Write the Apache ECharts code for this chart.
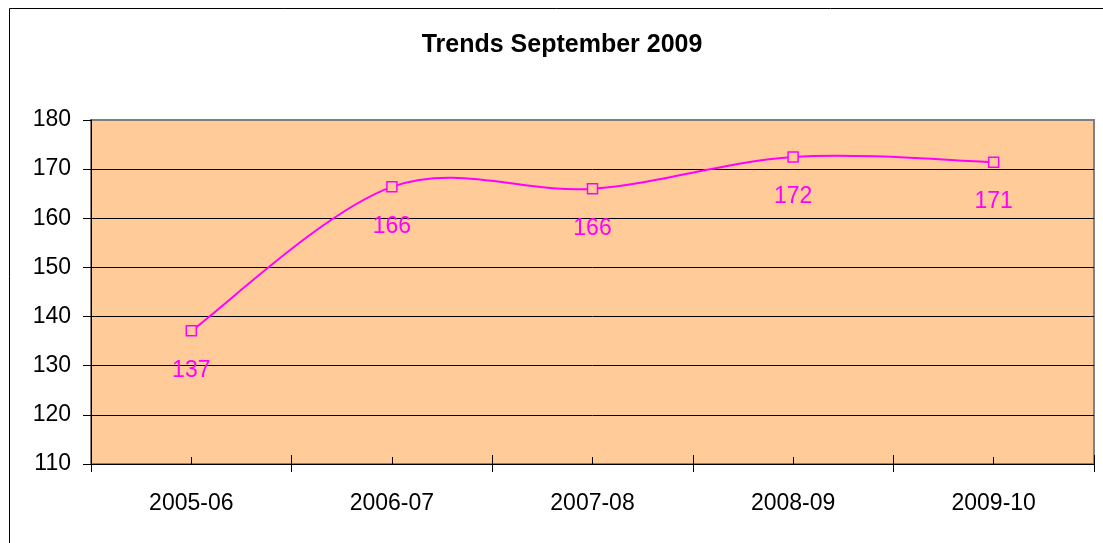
<!DOCTYPE html>
<html>
<head>
<meta charset="utf-8">
<script src="https://cdn.jsdelivr.net/npm/echarts@6/dist/echarts.min.js"></script>
<style>
html,body{margin:0;padding:0;background:#fff;}
#chart{width:1103px;height:543px;}
</style>
</head>
<body>
<div id="chart"></div>
<script>
// Data
const titleText = 'Trends September 2009';
const categories = ['2005-06', '2006-07', '2007-08', '2008-09', '2009-10'];
const values = [137.1, 166.4, 166.0, 172.49, 171.4];
const yTicks = { min: 110, max: 180, interval: 10 };

const FONT = '"Liberation Sans", Arial, sans-serif';
const chart = echarts.init(document.getElementById('chart'), null, { renderer: 'canvas' });

const baseX = {
  type: 'category',
  data: categories,
  position: 'bottom',
  boundaryGap: true,
  offset: 0
};

// Excel-style smoothed line (Catmull-Rom through the data points, positioned by the axes)
function renderSmooth(params, api) {
  if (params.dataIndex !== 0) return null;
  const pts = values.map((v, i) => api.coord([i, v]));
  const n = pts.length;
  let d = 'M' + pts[0][0] + ' ' + pts[0][1];
  for (let i = 0; i < n - 1; i++) {
    const p0 = pts[Math.max(0, i - 1)];
    const p1 = pts[i];
    const p2 = pts[i + 1];
    const p3 = pts[Math.min(n - 1, i + 2)];
    const c1 = [p1[0] + (p2[0] - p0[0]) / 6, p1[1] + (p2[1] - p0[1]) / 6];
    const c2 = [p2[0] - (p3[0] - p1[0]) / 6, p2[1] - (p3[1] - p1[1]) / 6];
    d += ' C' + c1[0] + ' ' + c1[1] + ' ' + c2[0] + ' ' + c2[1] + ' ' + p2[0] + ' ' + p2[1];
  }
  return {
    type: 'path',
    shape: { pathData: d },
    style: { fill: 'none', stroke: '#FF00FF', lineWidth: 2 },
    silent: true
  };
}

chart.setOption({
  animation: false,
  backgroundColor: '#ffffff',
  title: {
    text: titleText,
    left: 557,
    top: 28,
    textAlign: 'center',
    textStyle: { fontFamily: FONT, fontWeight: 'bold', fontSize: 25, color: '#000' }
  },
  graphic: [{
    type: 'rect',
    shape: { x: 9.5, y: 8.5, width: 1200, height: 600 },
    style: { fill: 'none', stroke: '#000', lineWidth: 1 },
    silent: true,
    z: 100
  }],
  grid: {
    left: 91, right: 9, top: 120, bottom: 79,
    show: true,
    backgroundColor: '#FFCC99',
    borderColor: '#808080',
    borderWidth: 2
  },
  xAxis: [
    Object.assign({}, baseX, {
      axisLine: { show: true, lineStyle: { color: '#000', width: 1 } },
      axisTick: { show: true, inside: false, length: 8, alignWithLabel: false, interval: 0, lineStyle: { color: '#000' } },
      axisLabel: { show: true, margin: 28, fontFamily: FONT, fontSize: 23, color: '#000', interval: 0 },
      splitLine: { show: false }
    }),
    Object.assign({}, baseX, {
      axisLine: { show: false },
      axisTick: { show: true, inside: true, length: 9, alignWithLabel: false, interval: 0, lineStyle: { color: '#000' } },
      axisLabel: { show: false },
      splitLine: { show: false }
    }),
    Object.assign({}, baseX, {
      axisLine: { show: false },
      axisTick: { show: true, inside: true, length: 7, alignWithLabel: true, interval: 0, lineStyle: { color: '#000' } },
      axisLabel: { show: false },
      splitLine: { show: false }
    })
  ],
  yAxis: {
    type: 'value',
    min: yTicks.min,
    max: yTicks.max,
    interval: yTicks.interval,
    axisLine: { show: true, lineStyle: { color: '#000', width: 1 } },
    axisTick: { show: true, inside: false, length: 8, lineStyle: { color: '#000' } },
    axisLabel: { margin: 20, fontFamily: FONT, fontSize: 23, color: '#000' },
    splitLine: {
      show: true,
      lineStyle: { color: ['#000', '#000', '#000', '#000', '#000', '#000', '#000', '#808080'], width: 1 }
    }
  },
  series: [{
    type: 'custom',
    xAxisIndex: 0,
    data: values.map((v, i) => [i, v]),
    renderItem: renderSmooth,
    clip: false,
    z: 2,
    silent: true
  }, {
    type: 'line',
    xAxisIndex: 0,
    data: values,
    z: 3,
    symbol: 'rect',
    symbolSize: 10,
    lineStyle: { width: 0, opacity: 0 },
    itemStyle: { color: '#FFCC99', borderColor: '#FF00FF', borderWidth: 1.5 },
    label: {
      show: true,
      position: 'bottom',
      distance: 22.5,
      fontFamily: FONT,
      fontSize: 23,
      color: '#FF00FF',
      formatter: p => Math.round(p.value)
    },
    emphasis: { disabled: true }
  }]
});
</script>
</body>
</html>
